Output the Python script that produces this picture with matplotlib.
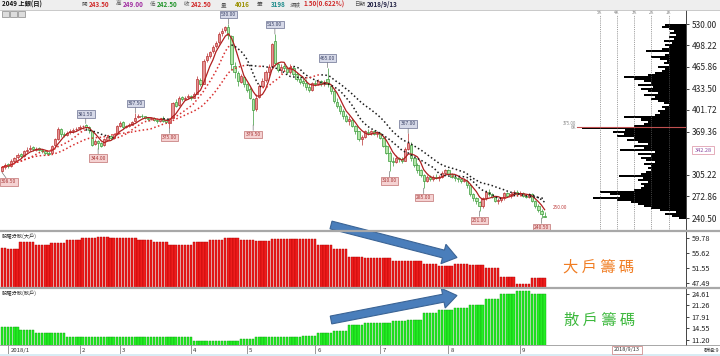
import numpy as np
import pandas as pd
import matplotlib
matplotlib.use('Agg')
import matplotlib.pyplot as plt
import matplotlib.transforms as mtransforms
from matplotlib.patches import Rectangle, FancyArrow

plt.rcParams['font.family'] = ['Noto Sans CJK TC', 'DejaVu Sans']

# ---- daily candles, 2049 ----
opens = [310, 317, 321, 318, 325, 331, 336, 333, 341, 343,
         346, 342, 345, 342, 341, 338, 337, 349, 358, 373,
         366, 364, 369, 371, 373, 375, 378, 379, 377, 370,
         351, 355, 352, 349, 357, 363, 360, 366, 378, 384,
         377, 378, 380, 385, 391, 393, 392, 390, 388, 390,
         387, 385, 389, 387, 383, 390, 414, 409, 421, 418,
         421, 423, 420, 426, 447, 441, 476, 483, 490, 497,
         503, 516, 521, 525, 512, 468, 457, 444, 451, 440,
         433, 418, 403, 421, 438, 446, 458, 468, 505, 470,
         462, 467, 464, 458, 465, 455, 448, 445, 442, 436,
         431, 442, 440, 445, 441, 448, 438, 430, 414, 408,
         400, 392, 386, 387, 378, 370, 358, 362, 369, 367,
         370, 366, 368, 360, 348, 338, 326, 324, 330, 328,
         326, 344, 350, 330, 320, 312, 305, 296, 302, 298,
         302, 300, 302, 308, 312, 306, 302, 300, 298, 295,
         296, 290, 276, 270, 264, 258, 270, 280, 276, 272,
         266, 268, 270, 278, 274, 276, 280, 276, 278, 274,
         272, 276, 266, 258, 251, 243.5]
highs = [318, 322, 323, 328, 332, 337, 338, 342, 346, 349,
         348, 346, 347, 344, 342, 340, 350, 360, 376, 375,
         369, 371, 373, 375, 377, 379, 380, 381.5, 378, 372,
         358, 357, 354, 360, 365, 365, 368, 380, 386, 386,
         380, 382, 386, 397.5, 395, 395, 393, 391, 391, 391,
         388, 390, 392, 388, 390, 414, 418, 422, 423, 422,
         425, 424, 428, 452, 450, 478, 486, 490, 498, 505,
         518, 524, 527, 530, 514, 474, 460, 456, 453, 442,
         436, 420, 425, 440, 450, 462, 470, 502, 515, 474,
         470, 472, 468, 470, 468, 458, 452, 450, 448, 440,
         444, 446, 448, 447, 446, 465, 440, 432, 420, 410,
         403, 396, 392, 389, 380, 371, 364, 372, 374, 372,
         372, 370, 369, 362, 350, 340, 332, 334, 332, 331,
         346, 367, 354, 332, 322, 314, 306, 304, 305, 304,
         306, 304, 310, 314, 314, 308, 305, 302, 300, 300,
         298, 291, 278, 272, 266, 272, 282, 284, 278, 274,
         270, 272, 280, 280, 279, 283, 282, 281, 280, 276,
         278, 278, 268, 262, 254, 249]
lows = [308.5, 314, 315, 317, 323, 329, 330, 332, 338, 341,
        340, 340, 340, 338, 335, 334, 336, 347, 357, 362,
        361, 363, 366, 367, 370, 372, 374, 373, 368, 348,
        349, 344, 346, 348, 356, 357, 359, 365, 376, 374,
        375, 376, 379, 384, 389, 390, 388, 386, 387, 385,
        383, 384, 384, 382, 375, 389, 406, 408, 415, 416,
        418, 417, 419, 425, 437, 440, 474, 480, 486, 494,
        500, 512, 518, 508, 462, 450, 438, 442, 436, 428,
        418, 379.5, 400, 419, 436, 444, 452, 466, 468, 458,
        457, 460, 456, 455, 452, 445, 440, 438, 432, 428,
        430, 438, 439, 438, 437, 436, 426, 412, 404, 395,
        388, 384, 380, 376, 366, 355, 350, 360, 365, 364,
        364, 362, 358, 346, 336, 310, 318, 322, 324, 322,
        325, 342, 326, 316, 308, 302, 285, 294, 296, 296,
        298, 296, 300, 306, 304, 300, 296, 294, 292, 294,
        286, 274, 266, 262, 251, 256, 268, 274, 270, 264,
        262, 265, 268, 272, 271, 275, 274, 274, 272, 270,
        270, 264, 256, 250, 240.5, 242.5]
closes = [316, 320, 318, 326, 330, 334, 333, 340, 342, 345,
          343, 344, 342, 341, 338, 336, 348, 358, 374, 366,
          365, 368, 370, 372, 374, 377, 378, 376, 372, 350,
          356, 352, 348, 358, 362, 360, 366, 378, 382, 376,
          378, 380, 384, 390, 392, 392, 390, 388, 389, 387,
          386, 388, 386, 384, 388, 412, 408, 420, 418, 420,
          422, 420, 426, 448, 440, 475, 482, 488, 496, 502,
          515, 520, 526, 514, 470, 458, 445, 452, 440, 432,
          420, 402, 420, 438, 445, 458, 466, 500, 472, 462,
          466, 464, 458, 466, 455, 448, 444, 442, 436, 432,
          442, 440, 445, 440, 444, 440, 430, 415, 408, 400,
          392, 386, 388, 378, 370, 358, 362, 370, 367, 370,
          366, 368, 360, 348, 338, 326, 324, 330, 328, 326,
          344, 352, 330, 320, 312, 305, 296, 302, 298, 302,
          300, 302, 308, 312, 306, 302, 300, 298, 295, 297,
          290, 276, 270, 266, 258, 270, 280, 276, 272, 266,
          268, 270, 278, 274, 276, 280, 276, 278, 274, 272,
          276, 266, 258, 252, 246, 242.5]

# labelled swing points (day index)
high_marks = [27, 43, 73, 88, 105, 131]
low_marks = [0, 31, 54, 81, 125, 136, 154, 174]

price_ticks = [530.00, 498.22, 465.86, 433.50, 401.72, 369.36, 305.22, 272.86, 240.50]

# price-by-volume profile (K shares), 3-point bins from 240.5 upward
vp_start, vp_step = 240.5, 3
vp_vol = [0.4, 0.8, 1.2, 0.6, 1.5, 2.0, 2.4, 2.8, 3.2, 4.0,
          5.4, 3.8, 4.4, 5.0, 3.0, 2.6, 2.4, 2.6, 2.2, 2.8,
          2.5, 3.9, 2.6, 2.3, 2.0, 2.2, 2.0, 2.4, 1.8, 2.3,
          2.6, 2.0, 2.8, 1.8, 3.8, 2.4, 3.0, 2.2, 2.8, 3.4,
          3.0, 4.0, 3.6, 4.2, 3.5, 6.0, 3.0, 2.4, 2.2, 2.6,
          3.6, 1.8, 1.5, 1.6, 1.2, 1.4, 1.0, 1.3, 1.6, 2.0,
          1.8, 2.4, 1.6, 2.2, 2.6, 1.9, 2.8, 2.0, 2.4, 3.0,
          3.6, 2.2, 1.8, 1.4, 1.2, 1.6, 1.0, 1.3, 1.1, 1.5,
          2.0, 1.2, 1.0, 2.3, 1.4, 1.0, 1.2, 0.8, 1.3, 0.7,
          1.0, 0.6, 0.9, 0.7, 1.0, 1.4, 1.2]

# weekly shareholder distribution (%), days per week
week_days = [2, 4, 5, 5, 5, 5, 5, 4, 4, 5, 5, 5, 4, 4,
             5, 5, 5, 5, 5, 5, 5, 5, 5, 5, 5, 5, 4,
             5, 5, 5, 5, 5, 5, 5, 5, 5, 5]
big_holders = [57.1, 56.7, 58.6, 57.9, 58.4, 59.1, 59.9, 60.1, 59.8, 59.8, 59.3, 58.8, 57.9, 57.9,
               58.8, 59.3, 59.8, 59.3, 59.0, 59.4, 59.4, 59.4, 58.0, 56.8, 54.5, 54.3, 54.3,
               53.6, 53.6, 52.7, 52.2, 52.8, 52.5, 51.5, 49.0, 47.2, 48.8]
retail = [14.9, 14.9, 14.0, 13.1, 13.1, 12.1, 12.1, 12.1, 12.1, 12.1, 12.1, 12.1, 12.1, 12.1,
          10.9, 10.9, 10.9, 11.4, 12.0, 12.0, 12.0, 12.4, 13.1, 13.6, 15.35, 16.1, 16.1,
          16.5, 17.0, 19.0, 19.7, 20.3, 21.2, 23.0, 24.4, 25.2, 24.4]
big_ticks = [59.78, 55.62, 51.55, 47.49]
retail_ticks = [24.61, 21.26, 17.91, 14.55, 11.20]

month_idx = [2, 25, 38, 61, 79, 101, 122, 144, 167]
month_labels = ['2018/1', '2', '3', '4', '5', '6', '7', '8', '9']

W, H = 720, 356
fig = plt.figure(figsize=(7.2, 3.56), dpi=100, facecolor='white')


def px_axes(x0, y0, x1, y1):
    return fig.add_axes([x0 / W, 1 - y1 / H, (x1 - x0) / W, (y1 - y0) / H])


n = len(closes)
xs = np.arange(n)
XLIM = (-0.65, 220.6)
PLIM = (222.6, 550.9)

# ---- volume profile (behind the candles) ----
ax_v = px_axes(540, 10, 686, 230)
vp_price = vp_start + vp_step * np.arange(len(vp_vol))
ax_v.barh(vp_price, vp_vol, height=vp_step, color='black', lw=0)
ax_v.set_xlim(8.44, 0)
ax_v.set_ylim(*PLIM)
ax_v.axis('off')
for k in [5, 4, 3, 2, 1]:
    ax_v.plot([k, k], [PLIM[0], 544], ls=(0, (1.2, 1.5)), color='#666666', lw=0.5)
    ax_v.text(k, 546.5, f'{k}K', fontsize=3.2, color='#888888', ha='center', va='center')
ax_v.plot([0, 6.3], [376, 376], color='#c05050', lw=0.8)
ax_v.text(6.35, 382, '375.00', fontsize=3.2, color='#888888', ha='right', va='center')
ax_v.text(6.35, 375.5, '6K', fontsize=3.2, color='#888888', ha='right', va='center')

# ---- price panel ----
ax_p = px_axes(0, 10, 686, 230)
ax_p.patch.set_visible(False)
o = np.array(opens, float); c = np.array(closes, float)
hi = np.array(highs, float); lo = np.array(lows, float)
up = c >= o
edge = np.where(up, '#b83030', '#3a9a3a')
face = np.where(up, '#e59494', '#b2e6a8')
ax_p.vlines(xs, lo, hi, colors=edge, lw=0.5, zorder=2)
ax_p.bar(xs, np.abs(c - o), bottom=np.minimum(o, c), width=0.72,
         color=face, edgecolor=edge, lw=0.5, zorder=3)

cs = pd.Series(c)
ma5 = cs.rolling(5, min_periods=1).mean().values
ax_p.plot(xs, ma5, color='#b02020', lw=0.9, zorder=4)


def slope_dotted(ax, ma):
    rising = np.diff(ma, prepend=ma[0]) >= 0
    start = 0
    for k in range(1, n + 1):
        if k == n or rising[k] != rising[start]:
            seg = slice(max(start - 1, 0), k)
            ax.plot(xs[seg], ma[seg], ls=(0, (1, 1.6)), lw=1.1,
                    color='#d83030' if rising[start] else '#1a1a1a', zorder=4)
            start = k


slope_dotted(ax_p, cs.rolling(10, min_periods=1).mean().values)
slope_dotted(ax_p, cs.rolling(20, min_periods=1).mean().values)

for i in high_marks:
    ax_p.annotate(f'{highs[i]:.2f}', xy=(i, highs[i]), xytext=(0, 5), textcoords='offset points',
                  ha='center', va='bottom', fontsize=3.6, color='#3a4266', zorder=6,
                  bbox=dict(boxstyle='square,pad=0.25', fc='#d6d9e8', ec='#6a7090', lw=0.5),
                  arrowprops=dict(arrowstyle='-', color='#777777', lw=0.5, shrinkA=0, shrinkB=0))
for i in low_marks:
    dx = 5 if i == 0 else 0
    ax_p.annotate(f'{lows[i]:.2f}', xy=(i, lows[i]), xytext=(dx, -5), textcoords='offset points',
                  ha='center', va='top', fontsize=3.6, color='#a83838', zorder=6,
                  bbox=dict(boxstyle='square,pad=0.25', fc='#f5d2d2', ec='#c07070', lw=0.5),
                  arrowprops=dict(arrowstyle='-', color='#777777', lw=0.5, shrinkA=0, shrinkB=0))
ax_p.text(n + 1.5, 256, '250.00', fontsize=3.4, color='#c04040', va='center')

ax_p.set_xlim(*XLIM)
ax_p.set_ylim(*PLIM)
ax_p.yaxis.tick_right()
ax_p.set_yticks(price_ticks)
ax_p.set_yticklabels([f'{v:.2f}' for v in price_ticks])
ax_p.tick_params(axis='y', length=2.5, width=0.6, labelsize=6, pad=1.5, colors='#222222')
ax_p.set_xticks([])
for s in ['top', 'left', 'bottom']:
    ax_p.spines[s].set_visible(False)
ax_p.spines['right'].set_color('#444444')
ax_p.spines['right'].set_linewidth(0.7)

# ---- shareholder panels ----
big_daily = np.repeat(big_holders, week_days)
retail_daily = np.repeat(retail, week_days)

ax_b1 = px_axes(0, 231, 686, 287)
ax_b1.bar(xs, big_daily, width=0.75, color='#ee1c1c', edgecolor='#b00000', lw=0.3)
ax_b1.set_ylim(46.40, 61.69)
ax_b1.set_yticks(big_ticks)
ax_b1.set_yticklabels([f'{v:.2f}' for v in big_ticks])

ax_b2 = px_axes(0, 289, 686, 345)
ax_b2.bar(xs, retail_daily, width=0.75, color='#22ee22', edgecolor='#10a010', lw=0.3)
ax_b2.set_ylim(9.66, 25.92)
ax_b2.set_yticks(retail_ticks)
ax_b2.set_yticklabels([f'{v:.2f}' for v in retail_ticks])

for ax in (ax_b1, ax_b2):
    ax.set_xlim(*XLIM)
    ax.set_xticks([])
    ax.yaxis.tick_right()
    ax.tick_params(axis='y', length=2.5, width=0.6, labelsize=5.3, pad=1.5, colors='#222222')
    for s in ['top', 'left', 'bottom']:
        ax.spines[s].set_visible(False)
    ax.spines['right'].set_color('#444444')
    ax.spines['right'].set_linewidth(0.7)

trans = mtransforms.blended_transform_factory(ax_b2.transData, ax_b2.transAxes)
for idx, lab in zip(month_idx, month_labels):
    ax_b2.plot([idx, idx], [0, -0.2], transform=trans, color='#888888', lw=0.6, clip_on=False)
    ax_b2.text(idx + 0.7, -0.1, lab, transform=trans, fontsize=4.3, color='#333333',
               ha='left', va='center', clip_on=False)

# ---- overlay: header, separators, arrows, captions ----
ax_o = fig.add_axes([0, 0, 1, 1])
ax_o.set_xlim(0, W)
ax_o.set_ylim(H, 0)
ax_o.axis('off')
ax_o.patch.set_visible(False)

ax_o.add_patch(Rectangle((0, 0), W, 9.5, fc='#eeeeee', ec='none'))
ax_o.plot([0, W], [9.5, 9.5], color='#c0c0c0', lw=0.6)
for x0 in [2, 10, 18]:
    ax_o.add_patch(Rectangle((x0, 11), 7, 6, fc='#dddddd', ec='#888888', lw=0.5))

ax_o.text(1.5, 4.8, '2049 上銀(日)', fontsize=4.5, fontweight='bold', va='center', color='#111111')
header = [(82, '開', 89, '243.50', '#d02828'), (116, '高', 123, '249.00', '#a02ca0'),
          (150, '低', 157, '242.50', '#20942a'), (184, '收', 191, '242.50', '#d02828'),
          (221, '量', 235, '4016', '#9a9000'), (257, '筆', 271, '3198', '#1a8a8a'),
          (290, '漲跌', 304, '1.50(0.622%)', '#d02828'), (354, '日期', 367, '2018/9/13', '#222244')]
for lx, lab, vx, val, col in header:
    ax_o.text(lx, 4.8, lab, fontsize=4.0, va='center', color='#555555')
    ax_o.text(vx, 4.8, val, fontsize=4.5, fontweight='bold', va='center', color=col)

for y in [230.5, 288.2]:
    ax_o.plot([0, W], [y, y], color='#a8a8a8', lw=1.6)
ax_o.plot([0, W], [345.3, 345.3], color='#999999', lw=0.6)
ax_o.add_patch(Rectangle((0, 353.5), W, 2.5, fc='#d8ecf4', ec='none'))

ax_o.text(2, 236, '股權分散(大戶)', fontsize=3.8, va='center', color='#333333')
ax_o.text(2, 293.5, '股權分散(散戶)', fontsize=3.8, va='center', color='#333333')

ax_o.text(703, 150, '342.28', fontsize=4, color='#8a4aa0', ha='center', va='center',
          bbox=dict(boxstyle='square,pad=0.35', fc='white', ec='#e0a0b0', lw=0.6))
ax_o.text(627, 350, '2018/9/13', fontsize=4, color='#333333', ha='center', va='center',
          bbox=dict(boxstyle='square,pad=0.3', fc='white', ec='#d09090', lw=0.6))
ax_o.text(704, 350, '群組:9', fontsize=4, color='#333333', ha='left', va='center')

for (x0, y0, x1, y1) in [(331, 225, 457, 257.5), (331, 320, 457, 295.5)]:
    ax_o.add_patch(FancyArrow(x0, y0, x1 - x0, y1 - y0, width=8, head_width=20, head_length=14,
                              length_includes_head=True, fc='#4a7ebb', ec='#3b6495', lw=0.8))

ax_o.text(599, 267, '大 戶 籌 碼', fontsize=11, color='#f07d23', ha='center', va='center')
ax_o.text(600, 320, '散 戶 籌 碼', fontsize=11, color='#3cb83c', ha='center', va='center')

fig.savefig('out.png', dpi=100)
